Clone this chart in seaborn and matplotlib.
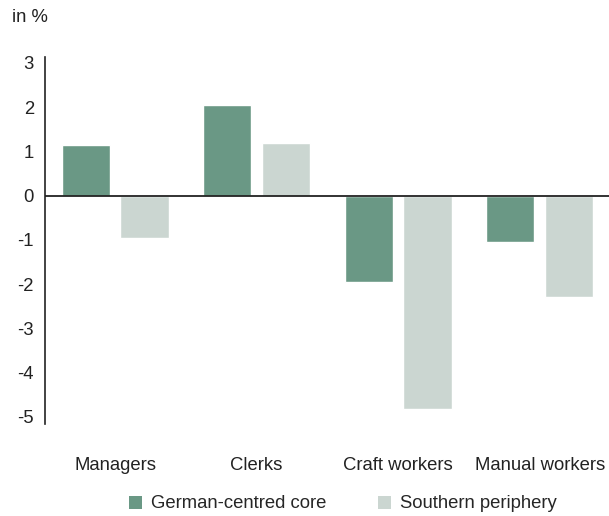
import matplotlib
matplotlib.use("Agg")
import matplotlib.pyplot as plt
import seaborn as sns
import pandas as pd
from matplotlib.patches import Patch

categories = ["Managers", "Clerks", "Craft workers", "Manual workers"]
core = [1.15, 2.05, -1.96, -1.05]
periphery = [-0.95, 1.19, -4.82, -2.30]
series_names = ["German-centred core", "Southern periphery"]
yticks = [3, 2, 1, 0, -1, -2, -3, -4, -5]

colors = ["#6a9885", "#cbd6d1"]
FS = 13.3

df = pd.DataFrame({
    "category": categories * 2,
    "value": core + periphery,
    "series": [series_names[0]] * 4 + [series_names[1]] * 4,
})

sns.set_style("white")
plt.rcParams["font.family"] = ["Liberation Sans", "DejaVu Sans"]

fig = plt.figure(figsize=(6.09, 5.16), dpi=100)
ax = fig.add_axes([45 / 609, 1 - 424 / 516, 1 - 45 / 609, (424 - 57) / 516])

sns.barplot(data=df, x="category", y="value", hue="series", order=categories,
            hue_order=series_names, palette=colors, width=0.83, gap=0.18,
            saturation=1, legend=False, ax=ax)

ax.set_xlim(-0.495, 3.49)
ax.set_ylim(-5.16, 3.13)
ax.set_yticks(yticks)
ax.set_yticklabels([str(t) for t in yticks], fontsize=FS, color="#222222")
ax.set_xticklabels(categories, fontsize=FS, color="#222222")
ax.tick_params(axis="x", length=0, pad=23.5)
ax.tick_params(axis="y", length=0, pad=8)
ax.set_xlabel("")
ax.set_ylabel("")
for s in ["top", "right", "bottom"]:
    ax.spines[s].set_visible(False)
ax.spines["left"].set_color("#222222")
ax.spines["left"].set_linewidth(1.2)
ax.axhline(0, color="#222222", lw=1.3, zorder=5)

fig.text(12 / 609, 1 - 18 / 516, "in %", fontsize=FS, color="#222222", va="center", ha="left")

handles = [Patch(facecolor=c, edgecolor="none") for c in colors]
fig.legend(handles, series_names, loc="center", bbox_to_anchor=(0.563, 1 - 504 / 516),
           ncol=2, frameon=False, fontsize=FS, handlelength=0.7, handleheight=0.7,
           handletextpad=0.5, columnspacing=2.8)

fig.savefig("out.png", dpi=100)
